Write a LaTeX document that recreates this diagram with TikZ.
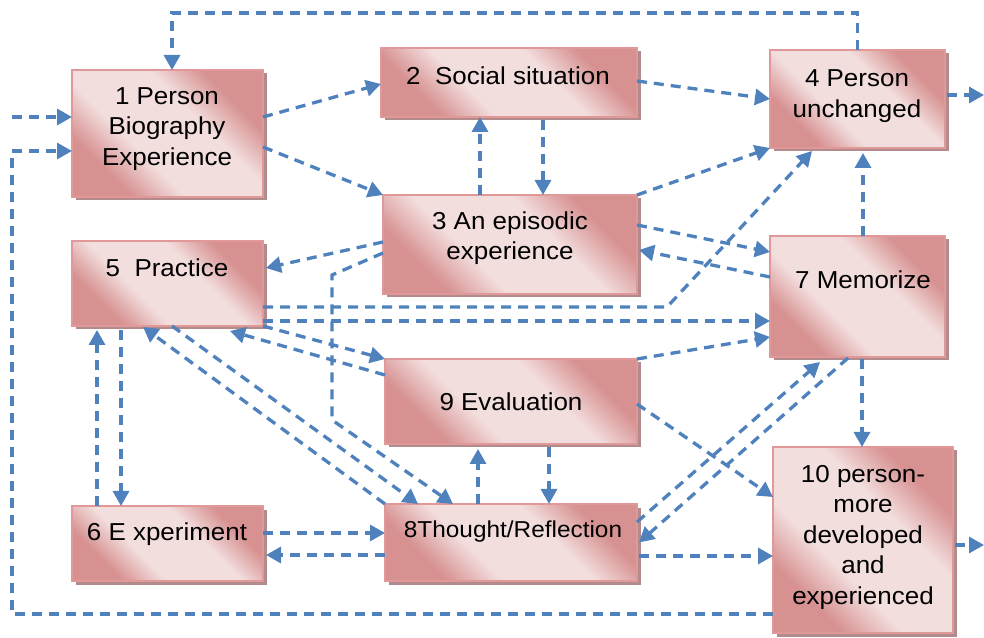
\documentclass[tikz,border=0pt]{standalone}
\usepackage{fontspec}
\setmainfont{Liberation Sans}[FakeStretch=1.06]
\usetikzlibrary{arrows.meta,shadows}

\definecolor{flowblue}{RGB}{79,129,189}
\definecolor{boxdark}{RGB}{215,145,145}
\definecolor{boxlight}{RGB}{243,222,222}
\definecolor{boxline}{RGB}{224,152,152}
\definecolor{boxshadow}{RGB}{178,140,140}

% dark corners, light diagonal band
\pgfdeclarehorizontalshading{boxshade}{100bp}{%
  color(0bp)=(boxdark); color(28bp)=(boxdark); color(40bp)=(boxlight);
  color(60bp)=(boxlight); color(72bp)=(boxdark); color(100bp)=(boxdark)}

\tikzset{
  box/.style={rectangle, draw=boxline, line width=1.5pt, outer sep=0pt,
    inner sep=0pt, shading=boxshade, shading angle=45,
    drop shadow={shadow xshift=3.5pt, shadow yshift=-3.5pt,
      fill=boxshadow, opacity=1}},
  lbl/.style={align=center, inner sep=0pt,
    font=\fontsize{24.5}{30.5}\selectfont},
  conn/.style={draw=flowblue, line width=3.3pt, dash pattern=on 10pt off 7pt,
    -{Triangle[length=15pt,width=16pt]}}
}

\begin{document}
\begin{tikzpicture}[x=1pt,y=1pt]
\useasboundingbox (0,0) rectangle (984,637);

% boxes
\node[box, minimum width=191pt, minimum height=127pt] (b1)  at (167.5,503.5) {};
\node[box, minimum width=256pt, minimum height=69pt]  (b2)  at (509,554.5) {};
\node[box, minimum width=254pt, minimum height=99pt]  (b3)  at (510,392.5) {};
\node[box, minimum width=175pt, minimum height=98pt]  (b4)  at (857.5,538) {};
\node[box, minimum width=191pt, minimum height=85pt]  (b5)  at (167.5,353.5) {};
\node[box, minimum width=191pt, minimum height=75pt]  (b6)  at (167.5,93.5) {};
\node[box, minimum width=175pt, minimum height=121pt] (b7)  at (857.5,340.5) {};
\node[box, minimum width=252pt, minimum height=77pt]  (b8)  at (511,94.5) {};
\node[box, minimum width=252pt, minimum height=85pt]  (b9)  at (511,235.5) {};
\node[box, minimum width=180pt, minimum height=186pt] (b10) at (863,97) {};

% labels
\node[lbl] (t1)  at (167,508) {1 Person\\Biography\\Experience};
\node[lbl] (t2)  at (508,561) {2~ Social situation};
\node[lbl] (t3)  at (510,399) {3 An episodic\\experience};
\node[lbl] (t4)  at (857,541) {4 Person\\unchanged};
\node[lbl] (t5)  at (167,369) {5~ Practice};
\node[lbl] (t6)  at (167,103) {6 E xperiment};
\node[lbl] (t7)  at (863,357) {7 Memorize};
\node[lbl, font=\fontsize{23}{28}\selectfont] (t8) at (513,105) {8Thought/Reflection};
\node[lbl] (t9)  at (511,235) {9 Evaluation};
\node[lbl] (t10) at (863,100) {10 person-\\more\\developed\\and\\experienced};

% free ends
\coordinate (in1)   at (12,520);
\coordinate (out4)  at (984,542);
\coordinate (out10) at (984,92);

% connectors
\draw[conn] (b4.north) -- ++(0,37) -| ([xshift=4.5pt]b1.north);
\draw[conn] (in1) -- ([yshift=16.5pt]b1.west);
\draw[conn] ([yshift=-74pt]b10.west) -- ++(-761,0) |- ([yshift=-17.5pt]b1.west);
\draw[conn] ([yshift=16.5pt]b1.east) -- ([yshift=-1.5pt]b2.west);
\draw[conn] ([yshift=-13.5pt]b1.east) -- (b3.north west);
\draw[conn] ([yshift=1.5pt]b2.east) -- (b4.west);
\draw[conn] ([xshift=-30pt]b3.north) -- ([xshift=-30pt]b3.north |- b2.south);
\draw[conn] ([xshift=34pt,yshift=-3pt]b2.south) -- ([xshift=34pt]b2.south |- b3.north);
\draw[conn] (b3.north east) -- (b4.south west);
\draw[conn] ([yshift=-23.5pt]b5.east) -- ++(404,0) -- ([xshift=-45.5pt,yshift=-3pt]b4.south);
\draw[conn] ([yshift=-37.5pt]b5.east) -- ([yshift=-37.5pt]b5.east -| b7.west);
\draw[conn] ([yshift=2.5pt]b3.west) -- ([xshift=3pt,yshift=15.5pt]b5.east);
\draw[conn] ([yshift=-8.5pt]b3.west) -- ++(-51,-22) -- ++(0,-145) -- ([xshift=-58pt]b8.north);
\draw[conn] ([xshift=4.5pt]b5.south) -- ([xshift=-93pt]b8.north);
\draw[conn] (b8.north west) -- ([xshift=-24.5pt,yshift=-1pt]b5.south);
\draw[conn] (b5.south east) -- (b9.north west);
\draw[conn] ([yshift=26.5pt]b9.west) -- ([xshift=62.5pt,yshift=-5pt]b5.south);
\draw[conn] ([xshift=-70.5pt]b6.north) -- ([xshift=-70.5pt,yshift=-4pt]b5.south);
\draw[conn] ([xshift=-46.5pt,yshift=-4pt]b5.south) -- ([xshift=-46.5pt]b6.north);
\draw[conn] ([yshift=10.5pt]b6.east) -- ([yshift=10.5pt]b6.east -| b8.west);
\draw[conn] ([yshift=-12.5pt]b8.west) -- ([xshift=3pt,yshift=-11.5pt]b6.east);
\draw[conn] ([xshift=-33pt]b8.north) -- ([xshift=-33pt,yshift=-5pt]b9.south);
\draw[conn] ([xshift=38pt,yshift=-3pt]b9.south) -- ([xshift=38pt]b8.north);
\draw[conn] ([xshift=2pt,yshift=-13.5pt]b8.east) -- ([yshift=-16pt]b10.west);
\draw[conn] ([xshift=2pt,yshift=-5pt]b10.east) -- (out10);
\draw[conn] ([xshift=2pt,yshift=4pt]b4.east) -- (out4);
\draw[conn] ([yshift=-2.5pt]b9.east) -- ([yshift=43pt]b10.west);
\draw[conn] (b9.north east) -- ([yshift=-40.5pt]b7.west);
\draw[conn] ([xshift=4.5pt,yshift=-2pt]b7.south) -- ([xshift=-1pt]b10.north);
\draw[conn] ([xshift=5.5pt]b7.north) -- ([xshift=5.5pt,yshift=-5pt]b4.south);
\draw[conn] ([yshift=19.5pt]b3.east) -- ([yshift=44.5pt]b7.west);
\draw[conn] ([yshift=19.5pt]b7.west) -- ([xshift=2pt,yshift=-5.5pt]b3.east);
\draw[conn] ([yshift=20.5pt]b8.east) -- ([xshift=-37.5pt,yshift=-5pt]b7.south);
\draw[conn] ([xshift=-9.5pt,yshift=-1pt]b7.south) -- ([xshift=2pt]b8.east);
\end{tikzpicture}
\end{document}
